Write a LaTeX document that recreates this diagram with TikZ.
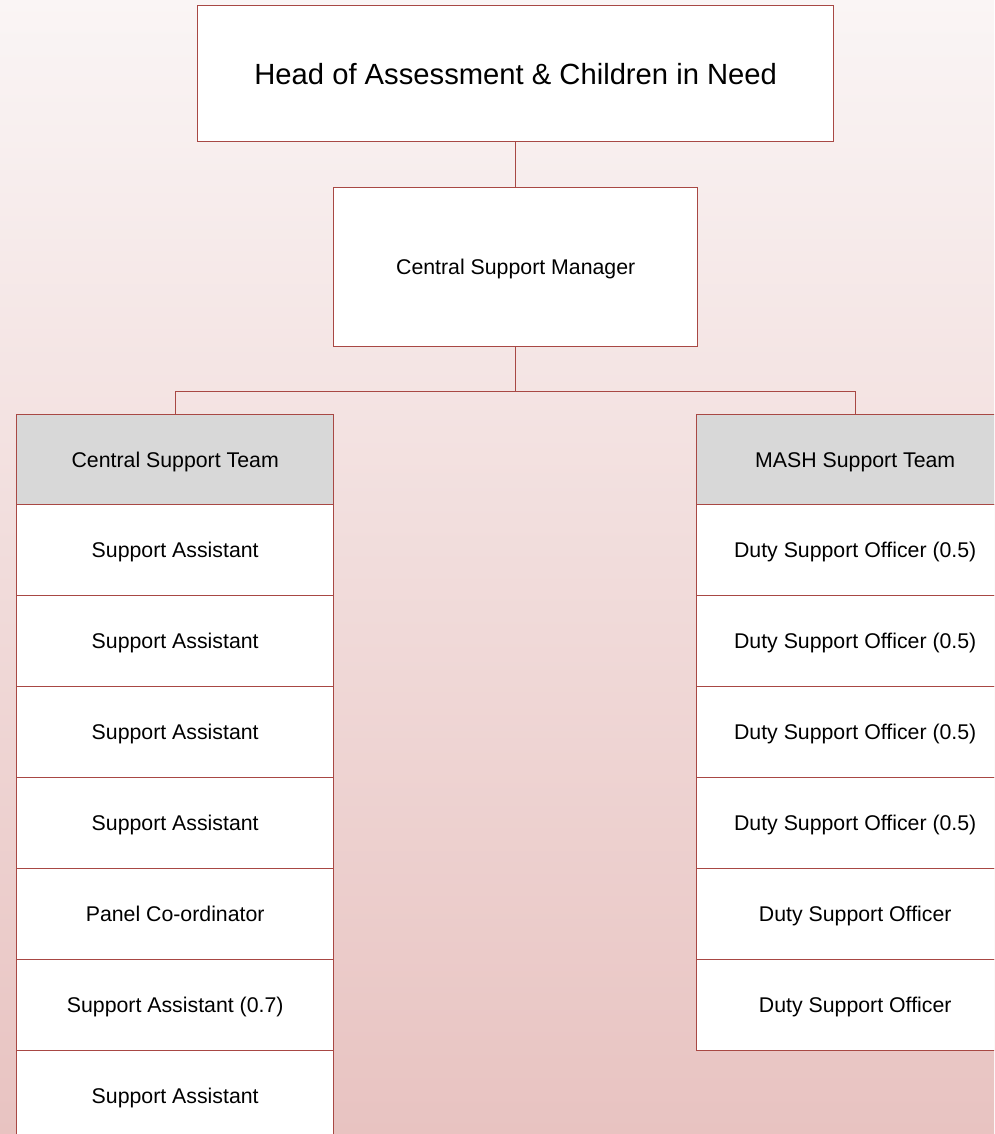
\documentclass[tikz,border=0pt]{standalone}
\usepackage{fontspec}
\setmainfont{Liberation Sans}
\definecolor{edge}{RGB}{168,72,68}
\definecolor{bgtop}{RGB}{250,245,245}
\definecolor{bgbot}{RGB}{232,195,193}
\definecolor{hdr}{RGB}{216,216,216}
\begin{document}
\begin{tikzpicture}[x=1pt,y=-1pt,
  box/.style={draw=edge, line width=1.4pt, fill=white, anchor=north west, inner sep=0pt, align=center,
    text height=15.2pt, text depth=0pt, font=\fontsize{21.3}{25}\selectfont},
  bigbox/.style={box, text height=20.9pt, font=\fontsize{29.2}{34}\selectfont},
  hdrbox/.style={box, fill=hdr},
  conn/.style={draw=edge, line width=1.4pt}]
\clip (0,0) rectangle (994,1134);
\useasboundingbox (0,0) rectangle (994,1134);
\shade[top color=bgtop, bottom color=bgbot, middle color={bgtop!50!bgbot}] (0,0) rectangle (994,1134);
% top
\node[bigbox, minimum width=636pt, minimum height=136pt] (head) at (197,5) {Head of Assessment \& Children in Need};
\node[box, minimum width=364pt, minimum height=159pt] (csm) at (333,187) {Central Support Manager};
% left column
\node[hdrbox, minimum width=317pt, minimum height=90pt] (cst) at (16,414) {Central Support Team};
\node[box, minimum width=317pt, minimum height=91pt] (l1) at (16,504) {Support Assistant};
\node[box, minimum width=317pt, minimum height=91pt] (l2) at (16,595) {Support Assistant};
\node[box, minimum width=317pt, minimum height=91pt] (l3) at (16,686) {Support Assistant};
\node[box, minimum width=317pt, minimum height=91pt] (l4) at (16,777) {Support Assistant};
\node[box, minimum width=317pt, minimum height=91pt] (l5) at (16,868) {Panel Co-ordinator};
\node[box, minimum width=317pt, minimum height=91pt] (l6) at (16,959) {Support Assistant (0.7)};
\node[box, minimum width=317pt, minimum height=91pt] (l7) at (16,1050) {Support Assistant};
% right column
\node[hdrbox, minimum width=317pt, minimum height=90pt] (mash) at (696,414) {MASH Support Team};
\node[box, minimum width=317pt, minimum height=91pt] (r1) at (696,504) {Duty Support Officer (0.5)};
\node[box, minimum width=317pt, minimum height=91pt] (r2) at (696,595) {Duty Support Officer (0.5)};
\node[box, minimum width=317pt, minimum height=91pt] (r3) at (696,686) {Duty Support Officer (0.5)};
\node[box, minimum width=317pt, minimum height=91pt] (r4) at (696,777) {Duty Support Officer (0.5)};
\node[box, minimum width=317pt, minimum height=91pt] (r5) at (696,868) {Duty Support Officer};
\node[box, minimum width=317pt, minimum height=91pt] (r6) at (696,959) {Duty Support Officer};
% connectors
\path (csm.south) ++(0,44) coordinate (bus);
\draw[conn] (head.south) -- (csm.north);
\draw[conn] (csm.south) -- (bus) -| (cst.north);
\draw[conn] (bus) -| (mash.north);
\end{tikzpicture}
\end{document}
